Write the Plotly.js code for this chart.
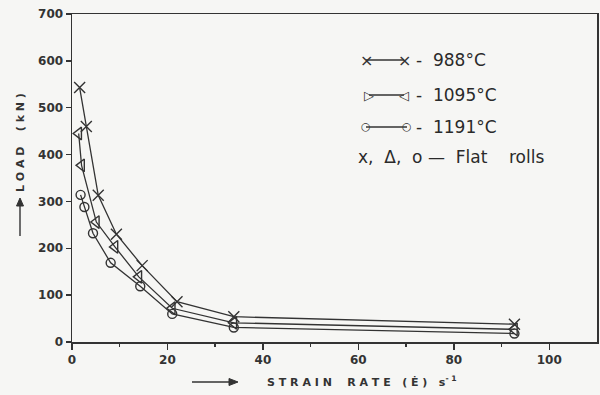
<!DOCTYPE html>
<html><head><meta charset="utf-8">
<script src="https://cdn.plot.ly/plotly-3.0.1.min.js"></script>
<style>html,body{margin:0;padding:0;background:#f6f6f4}</style>
</head><body><div id="chart" style="width:600px;height:395px"></div>
<script>
// Data (strain rate s^-1 vs load kN)
const x988  = [1.6, 3.0, 5.5, 9.3, 14.7, 22.0, 33.9, 92.7];
const y988  = [543, 460, 313, 230, 163, 86, 54, 38];
const x1095 = [1.4, 2.0, 5.1, 9.0, 14.0, 21.0, 33.9, 92.7];
const y1095 = [445, 377, 256, 203, 139, 72, 41, 27];
const x1191 = [1.8, 2.6, 4.4, 8.1, 14.3, 21.0, 33.9, 92.7];
const y1191 = [314, 288, 232, 169, 119, 60, 31, 18];
const seriesNames = ['988°C', '1095°C', '1191°C'];
const xTicks = [0, 20, 40, 60, 80, 100];
const yTicks = [0, 100, 200, 300, 400, 500, 600, 700];

const ink = '#333333';
const lineStyle = {color: ink, width: 1.3};
function tr(x, y, name, symbol, size) {
  return {x: x, y: y, name: name, type: 'scatter', mode: 'lines+markers',
    line: lineStyle, marker: {symbol: symbol, size: size, color: ink, line: {color: ink, width: 1.4}},
    showlegend: false};
}
const traces = [
  tr(x988, y988, seriesNames[0], 'x-thin-open', 11),
  tr(x1095, y1095, seriesNames[1], 'triangle-left-open', 11),
  tr(x1191, y1191, seriesNames[2], 'circle-open', 9)
];

const W = 525, H = 328, L = 72, T = 14;
const px = v => (v - L) / W;
const py = v => (T + H - v) / H;
const legFont = {family: 'DejaVu Sans', size: 17, color: '#2a2a2a'};
const glyph = (x, y, t, s) => ({xref: 'paper', yref: 'paper', x: px(x), y: py(y), text: t, showarrow: false,
  font: {family: 'DejaVu Sans', size: s || 12, color: ink}, xanchor: 'center', yanchor: 'middle'});
const txt = (x, y, t) => ({xref: 'paper', yref: 'paper', x: px(x), y: py(y), text: t, showarrow: false,
  font: legFont, xanchor: 'left', yanchor: 'middle'});
const seg = (x0, x1, y) => ({type: 'line', xref: 'paper', yref: 'paper', x0: px(x0), x1: px(x1), y0: py(y), y1: py(y),
  line: {color: ink, width: 1.3}});
const vseg = (x, y0, y1) => ({type: 'line', xref: 'paper', yref: 'paper', x0: px(x), x1: px(x), y0: py(y0), y1: py(y1),
  line: {color: ink, width: 1.4}});
const head = (pts) => ({type: 'path', xref: 'paper', yref: 'paper',
  path: 'M' + pts.map(p => px(p[0]) + ',' + py(p[1])).join(' L') + ' Z', fillcolor: ink, line: {color: ink, width: 1}});

const annotations = [
  glyph(366, 60, '×', 16), glyph(404, 60, '×', 16), txt(414, 60, '-  ' + seriesNames[0]),
  glyph(369, 95, '▷', 13), glyph(404, 95, '◁', 13), txt(414, 95, '-  ' + seriesNames[1]),
  glyph(366, 127, '○', 11), glyph(407, 127, '○', 11), txt(414, 127, '-  ' + seriesNames[2]),
  txt(356, 157, 'x,  Δ,  o —  Flat    rolls'),
  {xref: 'paper', yref: 'paper', x: px(265), y: py(381), text: 'S T R A I N    R A T E   ( Ė )   s<sup>- 1</sup>',
   showarrow: false, xanchor: 'left', yanchor: 'middle',
   font: {family: 'DejaVu Sans', size: 11, color: ink, weight: 'bold'}},
  {xref: 'paper', yref: 'paper', x: px(20), y: py(143), text: 'L O A D    ( k N )', textangle: -90,
   showarrow: false, xanchor: 'center', yanchor: 'middle',
   font: {family: 'DejaVu Sans', size: 11, color: ink, weight: 'bold'}}
];

const axisFont = {family: 'DejaVu Sans', size: 12, color: ink, weight: 'bold'};
const layout = {
  width: 600, height: 395,
  margin: {l: L, r: 600 - L - W, t: T, b: 395 - T - H},
  paper_bgcolor: '#f6f6f4', plot_bgcolor: '#f6f6f4',
  showlegend: false,
  xaxis: {range: [0, 110], tickvals: xTicks, ticktext: xTicks.map(String), ticks: 'outside', ticklen: 6,
    tickwidth: 1.5, tickcolor: ink, showline: true, mirror: true, linecolor: ink, linewidth: 1.5,
    showgrid: false, zeroline: false, tickfont: axisFont,
    minor: {tickvals: [10, 30, 50, 70, 90], ticks: 'outside', ticklen: 3, tickwidth: 1.5, tickcolor: ink}},
  yaxis: {range: [0, 700], tickvals: yTicks, ticktext: yTicks.map(String), ticks: 'outside', ticklen: 5,
    tickwidth: 1.5, tickcolor: ink, showline: true, mirror: true, linecolor: ink, linewidth: 1.5,
    showgrid: false, zeroline: false, tickfont: axisFont},
  shapes: [seg(366, 404, 60), seg(369, 404, 95), seg(366, 407, 127),
    seg(192, 232, 382), head([[238, 382], [229, 378.5], [229, 385.5]]),
    vseg(20, 236, 204), head([[20, 198], [16.5, 206], [23.5, 206]])],
  annotations: annotations
};
Plotly.newPlot('chart', traces, layout, {displayModeBar: false, staticPlot: true});
</script></body></html>
